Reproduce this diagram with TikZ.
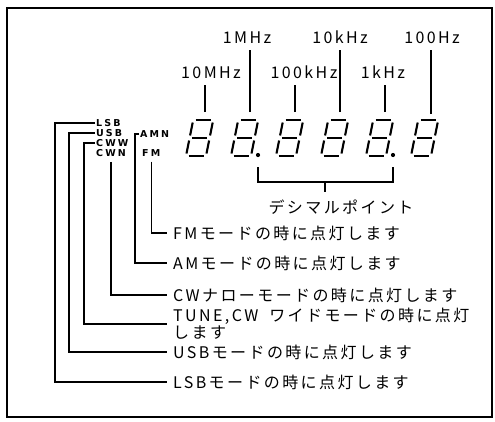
\documentclass[tikz,border=0pt]{standalone}
\usepackage{fontspec}
\setmainfont{Noto Sans CJK JP}[LetterSpace=15]
\newfontfamily\tagfont[LetterSpace=22]{DejaVu Sans}
\usetikzlibrary{positioning}
\newcommand{\segdigit}[1]{%
  \begin{scope}[shift={(#1,156)},xslant=0.2,line width=2.1pt]
    \draw (2.5,-36) -- (17.5,-36); \draw (2.5,-18) -- (17.5,-18); \draw (2.5,0) -- (17.5,0);
    \draw (0,-33.5) -- (0,-20.5); \draw (20,-33.5) -- (20,-20.5);
    \draw (0,-15.5) -- (0,-2.5); \draw (20,-15.5) -- (20,-2.5);
  \end{scope}}

\begin{document}
\begin{tikzpicture}[x=1pt,y=-1pt,
  freq/.style={anchor=south,inner xsep=0pt,inner ysep=6pt,font=\fontsize{16}{16}\selectfont},
  tag/.style={anchor=west,inner sep=1pt,font=\tagfont\bfseries\fontsize{9.5}{9.5}\selectfont},
  note/.style={anchor=west,inner xsep=6pt,inner ysep=1pt,align=left,font=\fontsize{16}{17}\selectfont},
  lead/.style={line width=1.3pt}]
  \useasboundingbox (0,0) rectangle (495,421);
  \draw[line width=1.6pt] (7,8) rectangle (492,417);

  % frequency digits
  \segdigit{186} \segdigit{231} \segdigit{276} \segdigit{321} \segdigit{366} \segdigit{411}
  \fill (258,155) circle (2.1); \fill (393,155) circle (2.1);

  \node[freq] (m1) at (247,50) {1MHz};
  \node[freq] (k10) at (340,50) {10kHz};
  \node[freq] (h100) at (432,50) {100Hz};
  \node[freq] (m10) at (211,85) {10MHz};
  \node[freq] (k100) at (304,85) {100kHz};
  \node[freq] (k1) at (383,85) {1kHz};
  \coordinate (t1) at (205,112); \coordinate (t2) at (250,112); \coordinate (t3) at (295,112);
  \coordinate (t4) at (340,112); \coordinate (t5) at (385,112); \coordinate (t6) at (431,114);
  \draw[lead] (t1) -- (t1 |- m10.south); \draw[lead] (t2) -- (t2 |- m1.south);
  \draw[lead] (t3) -- (t3 |- k100.south); \draw[lead] (t4) -- (t4 |- k10.south);
  \draw[lead] (t5) -- (t5 |- k1.south); \draw[lead] (t6) -- (t6 |- h100.south);

  % decimal point bracket
  \coordinate (bl) at (258,167); \coordinate (br) at (393,167); \coordinate (bm) at (325,182);
  \draw[lead] (bl) |- (bm) -| (br);
  \draw[lead] (bm) -- ++(0,10);
  \node[font=\fontsize{16}{16}\selectfont] (dsp) at (341,207) {デシマルポイント};

  % mode indicators
  \node[tag] (lsb) at (95,123) {LSB};
  \node[tag] (usb) at (95,133) {USB};
  \node[tag] (cww) at (95,143) {CWW};
  \node[tag] (cwn) at (95,153) {CWN};
  \node[tag] (amn) at (139,134) {AMN};
  \node[tag] (fm) at (141,153) {FM};

  \node[note] (fmn) at (167,233) {FMモードの時に点灯します};
  \node[note] (amn2) at (167,263) {AMモードの時に点灯します};
  \node[note] (cwnn) at (167,295) {CWナローモードの時に点灯します};
  \node[note] (cwwn) at (167,324) {TUNE,CW\hspace{11pt}ワイドモードの時に点灯\\します};
  \node[note] (usbn) at (167,352) {USBモードの時に点灯します};
  \node[note] (lsbn) at (167,382) {LSBモードの時に点灯します};

  \draw[lead] (lsb.west) -- ++(-40,0) |- (lsbn.west);
  \draw[lead] (usb.west) -- ++(-26,0) |- (usbn.west);
  \draw[lead] (cww.west) -- ++(-11,0) |- (cwwn.west);
  \draw[lead,shorten <=4pt] (cwn.south) |- (cwnn.west);
  \draw[lead] (amn.west) -- ++(-4,0) |- (amn2.west);
  \draw[lead,shorten <=4pt] (fm.south) |- (fmn.west);
\end{tikzpicture}
\end{document}
